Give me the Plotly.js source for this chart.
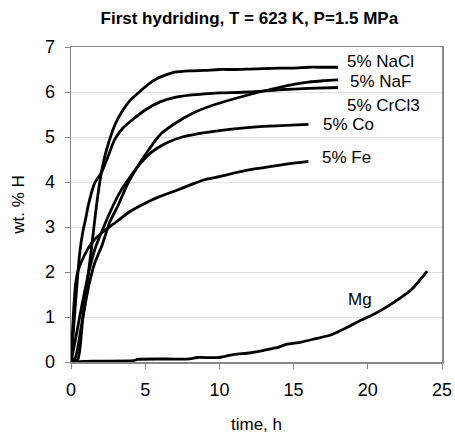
<!DOCTYPE html>
<html>
<head>
<meta charset="utf-8">
<script src="https://cdn.plot.ly/plotly-3.0.1.min.js"></script>
<style>html,body{margin:0;padding:0;background:#fff;}#chart{width:455px;height:435px;}</style>
</head>
<body>
<div id="chart"></div>
<script>
// Data (time in h, wt.% H)
var naclT = [0, 0.45, 0.8, 1.1, 1.37, 1.71, 2.04, 2.3, 2.6, 3.0, 3.5, 4.0, 4.6, 5.2, 5.8, 6.4, 7, 8, 9, 10, 11, 12, 13, 14, 15, 16, 17, 18];
var naclW = [0, 0.05, 1.0, 1.8, 2.5, 3.46, 4.2, 4.6, 4.94, 5.3, 5.6, 5.82, 6.0, 6.17, 6.3, 6.38, 6.44, 6.47, 6.48, 6.5, 6.5, 6.51, 6.52, 6.53, 6.53, 6.55, 6.55, 6.55];

var nafT = [0, 0.3, 0.7, 1.2, 1.6, 2.1, 2.6, 3.2, 3.8, 4.5, 5.2, 6.0, 7.0, 8.2, 9.5, 11, 12.7, 14, 15, 16, 17, 18];
var nafW = [0, 0.1, 0.8, 1.7, 2.2, 2.6, 3.1, 3.5, 3.95, 4.35, 4.7, 5.05, 5.3, 5.53, 5.7, 5.85, 6.0, 6.1, 6.17, 6.22, 6.25, 6.27];

var crclT = [0, 0.1, 0.3, 0.58, 0.8, 1.0, 1.15, 1.6, 2.04, 2.5, 2.94, 3.5, 4.2, 5.0, 6.0, 7.0, 8.0, 9.0, 10, 12, 14, 16, 18];
var crclW = [0, 0.4, 1.3, 2.4, 2.9, 3.2, 3.46, 3.98, 4.2, 4.57, 4.94, 5.2, 5.4, 5.6, 5.78, 5.88, 5.93, 5.96, 5.98, 6.0, 6.05, 6.08, 6.1];

var coT = [0, 0.3, 0.7, 1.2, 1.6, 2.2, 2.8, 3.4, 4.0, 4.5, 5.2, 5.8, 6.5, 7.5, 8.5, 9.5, 11, 12.7, 14.5, 16];
var coW = [0, 0.5, 1.2, 2.0, 2.5, 3.0, 3.45, 3.83, 4.12, 4.34, 4.6, 4.75, 4.88, 5.0, 5.07, 5.12, 5.18, 5.23, 5.26, 5.28];

var feT = [0, 0.15, 0.3, 0.45, 0.8, 1.4, 2, 3, 4, 5, 6, 7, 8, 9, 10, 11, 12, 13, 14, 15, 16];
var feW = [0, 1.0, 1.7, 2.0, 2.3, 2.65, 2.85, 3.1, 3.35, 3.53, 3.68, 3.8, 3.93, 4.05, 4.12, 4.2, 4.27, 4.32, 4.37, 4.42, 4.46];

var mgT = [0, 1.5, 4.2, 4.5, 8, 8.5, 10, 11, 12, 13, 14, 14.5, 15.5, 16.5, 17.5, 18.5, 19.5, 20.5, 21, 22, 23, 24];
var mgW = [0, 0.02, 0.03, 0.06, 0.07, 0.1, 0.1, 0.17, 0.2, 0.26, 0.33, 0.39, 0.44, 0.52, 0.6, 0.75, 0.92, 1.08, 1.17, 1.38, 1.63, 2.02];

var seriesNames = ["5% NaCl", "5% NaF", "5% CrCl3", "5% Co", "5% Fe", "Mg"];
var labelX = [18.46, 18.67, 18.46, 16.85, 16.78, 18.53];
var labelY = [6.67, 6.24, 5.71, 5.27, 4.54, 1.39];

var xs = [naclT, nafT, crclT, coT, feT, mgT];
var ys = [naclW, nafW, crclW, coW, feW, mgW];

var font = "Liberation Sans, Arial, sans-serif";
var traces = xs.map(function (x, i) {
  return {
    x: x, y: ys[i], name: seriesNames[i], type: "scatter", mode: "lines",
    line: {color: "#000", width: 2.8, shape: "spline", smoothing: 0.6},
    showlegend: false, hoverinfo: "skip"
  };
});

var annotations = seriesNames.map(function (n, i) {
  return {
    x: labelX[i], y: labelY[i], xref: "x", yref: "y", text: n,
    showarrow: false, xanchor: "left", yanchor: "middle",
    font: {family: font, size: 17, color: "#000"}
  };
});

var layout = {
  width: 455, height: 435,
  margin: {l: 71, r: 13, t: 47, b: 73},
  paper_bgcolor: "#fff", plot_bgcolor: "#fff",
  title: {text: "<b>First hydriding, T = 623 K, P=1.5 MPa</b>", x: 0.548, xanchor: "center", y: 0.958, yanchor: "middle",
          font: {family: font, size: 17, color: "#000"}},
  xaxis: {
    range: [0, 25], dtick: 5, tick0: 0, showgrid: false, zeroline: false,
    showline: true, linecolor: "#888", linewidth: 1.5, mirror: true,
    ticks: "outside", ticklen: 5, tickcolor: "#888", ticklabelstandoff: 6,
    tickfont: {family: font, size: 18, color: "#000"},
    title: {text: "time, h", font: {family: font, size: 17, color: "#000"}, standoff: 19}
  },
  yaxis: {
    range: [0, 7], dtick: 1, tick0: 0, showgrid: true, gridcolor: "#e0e0e0", gridwidth: 1,
    zeroline: false, showline: true, linecolor: "#888", linewidth: 1.5, mirror: true,
    ticks: "outside", ticklen: 5, tickcolor: "#888", ticklabelstandoff: 6,
    tickfont: {family: font, size: 18, color: "#000"},
    title: {text: "wt. % H", font: {family: font, size: 17, color: "#000"}, standoff: 16}
  },
  annotations: annotations
};

Plotly.newPlot("chart", traces, layout, {staticPlot: true, displayModeBar: false});
</script>
</body>
</html>
